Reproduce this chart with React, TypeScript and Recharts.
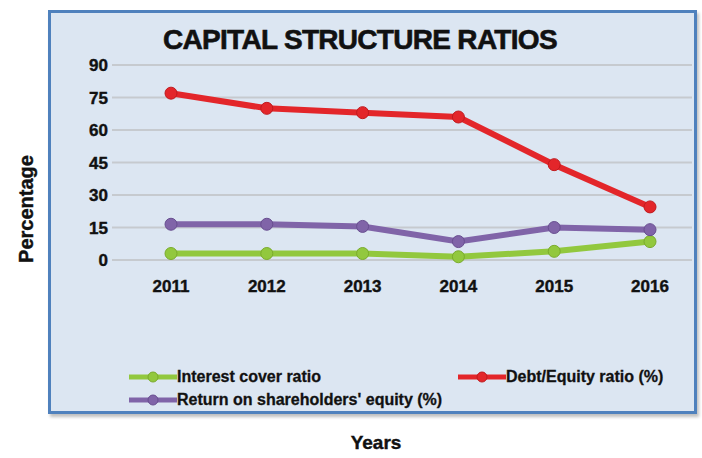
import React from 'react';
import { LineChart, Line, XAxis, YAxis, CartesianGrid } from 'recharts';

const years = ['2011', '2012', '2013', '2014', '2015', '2016'];
const interestCover = [3, 3, 3, 1.5, 4, 8.5];
const debtEquity = [77, 70, 68, 66, 44, 24.5];
const returnOnEquity = [16.5, 16.5, 15.5, 8.5, 15, 14];
const yTicks = [0, 15, 30, 45, 60, 75, 90];

const series = [
  { key: 'interest', name: 'Interest cover ratio', color: '#92c83e', dark: '#7aab2c', values: interestCover },
  { key: 'debt', name: 'Debt/Equity ratio (%)', color: '#e3262a', dark: '#c01a1e', values: debtEquity },
  { key: 'roe', name: "Return on shareholders' equity (%)", color: '#8064a8', dark: '#684e90', values: returnOnEquity },
];

const rows = years.map((year, i) => {
  const row: Record<string, string | number> = { year };
  series.forEach((s) => {
    row[s.key] = s.values[i];
  });
  return row;
});

const FONT = "'Liberation Sans', Arial, sans-serif";
const tickStyle = {
  fontFamily: FONT,
  fontSize: 17,
  fontWeight: 700,
  fill: '#111',
  stroke: '#111',
  strokeWidth: 0.4,
};

// legend slots (left, top) inside the box
const legendPos: Record<string, [number, number]> = {
  interest: [78, 355],
  debt: [407, 355],
  roe: [78, 378],
};

function Swatch({ color, dark }: { color: string; dark: string }) {
  return (
    <svg width={48} height={18} style={{ display: 'block' }}>
      <line x1={0} y1={9} x2={48} y2={9} stroke={color} strokeWidth={5} />
      <circle cx={24} cy={9} r={5} fill={color} stroke={dark} strokeWidth={1} />
    </svg>
  );
}

export default function App() {
  return (
    <div style={{ position: 'absolute', left: 0, top: 0, width: 702, height: 458, background: '#fff', fontFamily: FONT }}>
      <div
        style={{
          position: 'absolute',
          left: 48,
          top: 10,
          width: 643,
          height: 398,
          border: '3px solid #4f81bd',
          background: '#dce6f2',
          boxShadow: '2px 3px 3px rgba(0,0,0,0.25)',
        }}
      >
        <div
          style={{
            position: 'absolute',
            left: 112,
            top: 13,
            fontSize: 28,
            lineHeight: '28px',
            fontWeight: 900,
            letterSpacing: -0.7,
            color: '#111',
            whiteSpace: 'nowrap',
            WebkitTextStroke: '0.6px #111',
          }}
        >
          CAPITAL STRUCTURE RATIOS
        </div>
        <LineChart width={643} height={398} data={rows} margin={{ top: 52, right: 2, left: 21, bottom: 121 }}>
          <CartesianGrid vertical={false} stroke="#c6cacf" strokeWidth={2} />
          <XAxis
            dataKey="year"
            height={30}
            axisLine={false}
            tickLine={false}
            tickSize={0}
            tickMargin={20}
            padding={{ left: 59, right: 42 }}
            tick={tickStyle}
            interval={0}
          />
          <YAxis
            width={40}
            domain={[0, 90]}
            ticks={yTicks}
            axisLine={false}
            tickLine={false}
            tickSize={0}
            tickMargin={4}
            tick={tickStyle}
          />
          {series.map((s) => (
            <Line
              key={s.key}
              dataKey={s.key}
              name={s.name}
              stroke={s.color}
              strokeWidth={6}
              dot={{ r: 6, fill: s.color, stroke: s.dark, strokeWidth: 1 }}
              isAnimationActive={false}
            />
          ))}
        </LineChart>
        {series.map((s) => (
          <div
            key={s.key}
            style={{
              position: 'absolute',
              left: legendPos[s.key][0],
              top: legendPos[s.key][1],
              display: 'flex',
              alignItems: 'center',
              fontSize: 16,
              fontWeight: 700,
              color: '#111',
              whiteSpace: 'nowrap',
              WebkitTextStroke: '0.3px #111',
            }}
          >
            <Swatch color={s.color} dark={s.dark} />
            <span>{s.name}</span>
          </div>
        ))}
      </div>
      <div
        style={{
          position: 'absolute',
          left: 26,
          top: 209,
          transform: 'translate(-50%, -50%) rotate(-90deg)',
          fontSize: 20,
          fontWeight: 700,
          color: '#111',
          whiteSpace: 'nowrap',
          WebkitTextStroke: '0.4px #111',
        }}
      >
        Percentage
      </div>
      <div
        style={{
          position: 'absolute',
          left: 376,
          top: 443,
          transform: 'translate(-50%, -50%)',
          fontSize: 19,
          fontWeight: 700,
          color: '#111',
          WebkitTextStroke: '0.4px #111',
        }}
      >
        Years
      </div>
    </div>
  );
}
